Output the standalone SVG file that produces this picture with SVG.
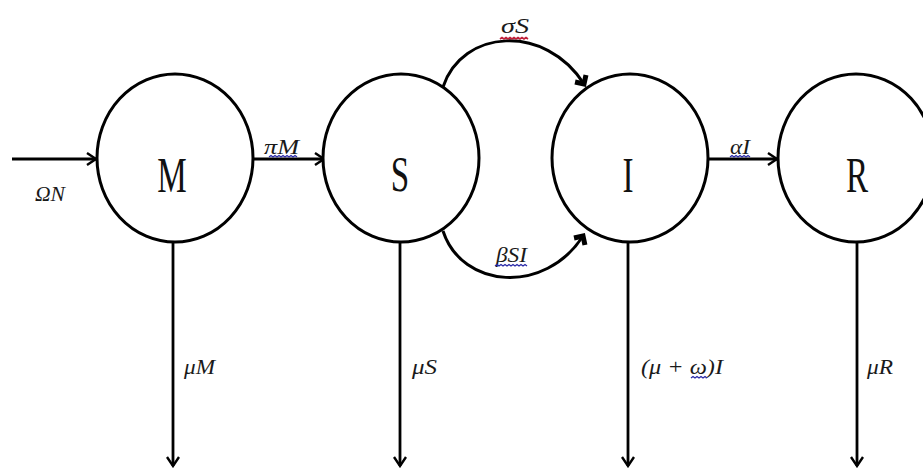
<svg xmlns="http://www.w3.org/2000/svg" width="923" height="468" viewBox="0 0 923 468">
  <style>
    .node { fill: #ffffff; stroke: #000000; stroke-width: 3; }
    .big { font-family: "Liberation Serif", "DejaVu Serif", serif; font-size: 51px; fill: #111111; text-anchor: middle; }
    .lbl { font-family: "Liberation Serif", "DejaVu Serif", serif; font-style: italic; font-size: 22px; fill: #1a1a1a; }
    .edge { fill: none; stroke: #000000; stroke-width: 2.8; }
    .arc { fill: none; stroke: #000000; stroke-width: 3; }
    .wavy-blue { fill: none; stroke: #2a2aa8; stroke-width: 1.3; }
    .wavy-red { fill: none; stroke: #c0203a; stroke-width: 1.6; }
  </style>
  <defs>
    <marker id="open" markerUnits="userSpaceOnUse" markerWidth="20" markerHeight="20" refX="0" refY="0" viewBox="-12 -10 14 20" orient="auto">
      <path d="M-9,-6 L0,0 L-9,6" fill="none" stroke="#000000" stroke-width="2.4" stroke-linejoin="miter"/>
    </marker>
    <marker id="corner" markerUnits="userSpaceOnUse" markerWidth="24" markerHeight="24" refX="0" refY="0" viewBox="-12 -12 16 24" orient="auto">
      <path d="M-6.5,-6.5 L0,0 L-6.5,6.5" fill="none" stroke="#000000" stroke-width="5" stroke-linejoin="miter"/>
    </marker>
  </defs>

  <rect x="0" y="0" width="923" height="468" fill="#ffffff"/>

  <!-- flows between compartments -->
  <g id="connectors">
    <path class="edge" d="M12,159 L96,159" marker-end="url(#open)"/>
    <path class="edge" d="M253,159 L324,159" marker-end="url(#open)"/>
    <path class="edge" d="M708,159 L777,159" marker-end="url(#open)"/>
    <path class="arc" d="M443,87 C462,29 545,23 584,84" marker-end="url(#corner)"/>
    <path class="arc" d="M443,231 C462,289 545,295 583,236" marker-end="url(#corner)"/>
    <path class="edge" d="M173,242 L173,466" marker-end="url(#open)"/>
    <path class="edge" d="M400,242 L400,466" marker-end="url(#open)"/>
    <path class="edge" d="M628,242 L628,466" marker-end="url(#open)"/>
    <path class="edge" d="M857,242 L857,466" marker-end="url(#open)"/>
  </g>

  <!-- compartments -->
  <g id="node-M">
    <ellipse class="node" cx="175" cy="158" rx="78" ry="84"/>
    <text class="big" transform="translate(172,192) scale(0.65,1)">M</text>
  </g>
  <g id="node-S">
    <ellipse class="node" cx="401" cy="158" rx="78" ry="84"/>
    <text class="big" transform="translate(400,191) scale(0.65,1)">S</text>
  </g>
  <g id="node-I">
    <ellipse class="node" cx="630" cy="158" rx="78" ry="84"/>
    <text class="big" transform="translate(628,192) scale(0.65,1)">I</text>
  </g>
  <g id="node-R">
    <ellipse class="node" cx="856" cy="158" rx="78" ry="84"/>
    <text class="big" transform="translate(857,192) scale(0.65,1)">R</text>
  </g>

  <!-- rate labels -->
  <g id="labels">
    <text class="lbl" x="35" y="201" textLength="30" lengthAdjust="spacingAndGlyphs">ΩN</text>
    <text class="lbl" x="264" y="154" textLength="35" lengthAdjust="spacingAndGlyphs">πM</text>
    <text class="lbl" x="501" y="33" textLength="28" lengthAdjust="spacingAndGlyphs">σS</text>
    <text class="lbl" x="496" y="262" textLength="31" lengthAdjust="spacingAndGlyphs">βSI</text>
    <text class="lbl" x="730" y="154" textLength="20" lengthAdjust="spacingAndGlyphs">αI</text>
    <text class="lbl" x="184" y="374" textLength="31" lengthAdjust="spacingAndGlyphs">μM</text>
    <text class="lbl" x="412" y="374" textLength="25" lengthAdjust="spacingAndGlyphs">μS</text>
    <text class="lbl" x="641" y="374" textLength="82" lengthAdjust="spacingAndGlyphs">(μ + ω)I</text>
    <text class="lbl" x="867" y="374" textLength="26" lengthAdjust="spacingAndGlyphs">μR</text>
  </g>

  <!-- proofing squiggles under the symbols -->
  <g id="squiggles">
    <path class="wavy-blue" d="M269,157 l2,-1.5 l2,1.5 l2,-1.5 l2,1.5 l2,-1.5 l2,1.5 l2,-1.5 l2,1.5 l2,-1.5 l2,1.5 l2,-1.5 l2,1.5 l2,-1.5 l2,1.5"/>
    <path class="wavy-red" d="M500,39 l2,-1.5 l2,1.5 l2,-1.5 l2,1.5 l2,-1.5 l2,1.5 l2,-1.5 l2,1.5 l2,-1.5 l2,1.5 l2,-1.5 l2,1.5 l2,-1.5 l2,1.5"/>
    <path class="wavy-blue" d="M495,266 l2,-1.5 l2,1.5 l2,-1.5 l2,1.5 l2,-1.5 l2,1.5 l2,-1.5 l2,1.5 l2,-1.5 l2,1.5 l2,-1.5 l2,1.5 l2,-1.5 l2,1.5 l2,-1.5 l2,1.5"/>
    <path class="wavy-blue" d="M730,157 l2,-1.5 l2,1.5 l2,-1.5 l2,1.5 l2,-1.5 l2,1.5 l2,-1.5 l2,1.5 l2,-1.5 l2,1.5"/>
    <path class="wavy-blue" d="M691,378 l2,-1.5 l2,1.5 l2,-1.5 l2,1.5 l2,-1.5 l2,1.5 l2,-1.5 l2,1.5"/>
  </g>
</svg>
